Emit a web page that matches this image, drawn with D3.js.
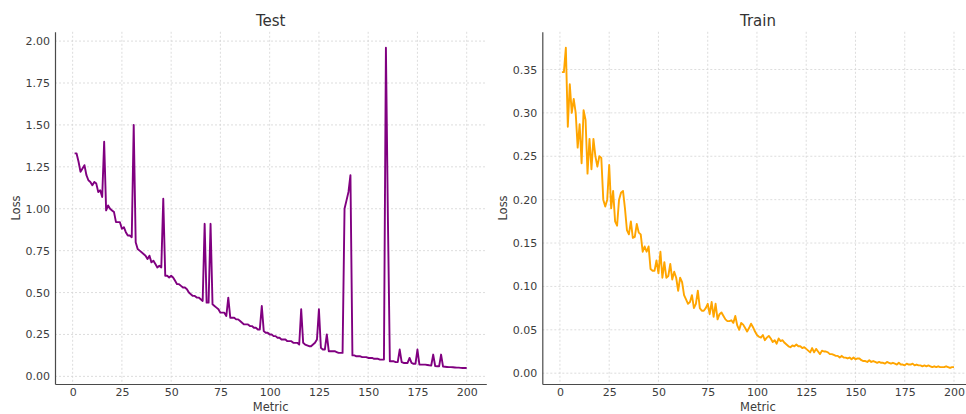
<!DOCTYPE html>
<html>
<head>
<meta charset="utf-8">
<script src="https://cdn.jsdelivr.net/npm/d3@7"></script>
<style>
  body { margin: 0; background: #fff; }
  svg { display: block; font-family: "DejaVu Sans", sans-serif; }
</style>
</head>
<body>
<svg id="chart" width="966" height="414"></svg>
<script>
// loss values, one per step (steps 1..200)
const testLoss = [
  1.33, 1.33, 1.28, 1.22, 1.24, 1.26, 1.20, 1.17, 1.16, 1.14,
  1.16, 1.15, 1.10, 1.11, 1.07, 1.40, 0.99, 1.02, 1.00, 0.99,
  0.98, 0.92, 0.92, 0.92, 0.88, 0.89, 0.86, 0.84, 0.84, 0.83,
  1.50, 0.80, 0.76, 0.75, 0.74, 0.73, 0.72, 0.70, 0.72, 0.68,
  0.69, 0.67, 0.65, 0.66, 0.65, 1.06, 0.60, 0.60, 0.59, 0.60,
  0.59, 0.57, 0.55, 0.55, 0.54, 0.53, 0.53, 0.52, 0.50, 0.49,
  0.48, 0.48, 0.47, 0.47, 0.46, 0.45, 0.91, 0.44, 0.44, 0.91,
  0.43, 0.42, 0.41, 0.40, 0.38, 0.38, 0.38, 0.36, 0.47, 0.35,
  0.35, 0.35, 0.34, 0.34, 0.33, 0.32, 0.31, 0.31, 0.31, 0.30,
  0.30, 0.29, 0.29, 0.28, 0.28, 0.42, 0.27, 0.26, 0.26, 0.25,
  0.25, 0.24, 0.24, 0.23, 0.23, 0.22, 0.22, 0.22, 0.21, 0.21,
  0.21, 0.20, 0.20, 0.20, 0.19, 0.40, 0.20, 0.19, 0.185, 0.18,
  0.18, 0.19, 0.20, 0.22, 0.40, 0.17, 0.16, 0.16, 0.25, 0.15,
  0.15, 0.15, 0.15, 0.145, 0.14, 0.14, 0.14, 1.00, 1.05, 1.10,
  1.20, 0.125, 0.125, 0.12, 0.12, 0.12, 0.115, 0.115, 0.115, 0.11,
  0.11, 0.11, 0.105, 0.105, 0.105, 0.10, 0.10, 0.10, 1.96, 0.95,
  0.09, 0.09, 0.09, 0.085, 0.085, 0.16, 0.085, 0.08, 0.08, 0.08,
  0.11, 0.08, 0.075, 0.075, 0.16, 0.07, 0.07, 0.07, 0.07, 0.068,
  0.066, 0.065, 0.13, 0.062, 0.06, 0.06, 0.13, 0.058, 0.057, 0.056,
  0.055, 0.055, 0.054, 0.053, 0.052, 0.052, 0.051, 0.05, 0.05, 0.05
]

const trainLoss = [
  0.347, 0.347, 0.375, 0.284, 0.333, 0.300, 0.316, 0.300, 0.260, 0.287,
  0.242, 0.303, 0.292, 0.230, 0.270, 0.235, 0.270, 0.250, 0.238, 0.250,
  0.248, 0.200, 0.192, 0.200, 0.240, 0.190, 0.210, 0.175, 0.170, 0.200,
  0.208, 0.210, 0.190, 0.165, 0.160, 0.175, 0.156, 0.157, 0.172, 0.162,
  0.160, 0.140, 0.146, 0.140, 0.146, 0.120, 0.118, 0.118, 0.130, 0.115,
  0.140, 0.110, 0.128, 0.110, 0.112, 0.126, 0.108, 0.117, 0.110, 0.095,
  0.110, 0.105, 0.090, 0.085, 0.080, 0.082, 0.090, 0.075, 0.080, 0.095,
  0.075, 0.072, 0.072, 0.075, 0.080, 0.068, 0.082, 0.065, 0.080, 0.062,
  0.068, 0.070, 0.066, 0.062, 0.060, 0.060, 0.061, 0.058, 0.066, 0.055,
  0.050, 0.058, 0.056, 0.052, 0.048, 0.052, 0.057, 0.053, 0.048, 0.044,
  0.042, 0.041, 0.044, 0.038, 0.041, 0.043, 0.040, 0.036, 0.038, 0.034,
  0.040, 0.037, 0.038, 0.035, 0.033, 0.031, 0.030, 0.032, 0.031, 0.033,
  0.031, 0.031, 0.029, 0.030, 0.028, 0.026, 0.024, 0.029, 0.024, 0.028,
  0.025, 0.022, 0.026, 0.025, 0.025, 0.024, 0.022, 0.022, 0.021, 0.020,
  0.020, 0.018, 0.020, 0.018, 0.018, 0.017, 0.018, 0.016, 0.018, 0.016,
  0.017, 0.017, 0.015, 0.014, 0.014, 0.013, 0.015, 0.013, 0.014, 0.013,
  0.012, 0.013, 0.012, 0.012, 0.011, 0.013, 0.012, 0.011, 0.012, 0.011,
  0.010, 0.012, 0.010, 0.010, 0.009, 0.011, 0.010, 0.010, 0.011, 0.009,
  0.010, 0.009, 0.009, 0.008, 0.009, 0.008, 0.009, 0.008, 0.007, 0.008,
  0.007, 0.008, 0.007, 0.007, 0.007, 0.008, 0.007, 0.006, 0.007, 0.007
]

const steps = d3.range(1, 201)
const xTicks = [0, 25, 50, 75, 100, 125, 150, 175, 200]
const testTicks = [0, 0.25, 0.5, 0.75, 1.0, 1.25, 1.5, 1.75, 2.0]
const trainTicks = [0, 0.05, 0.1, 0.15, 0.2, 0.25, 0.3, 0.35]

const svg = d3.select('#chart')

// matplotlib-like 5% margin around the data
function padded(ext) {
    let p = (ext[1] - ext[0]) * 0.05
    return [ext[0] - p, ext[1] + p]
}

function drawPanel(opts) {
    let g = svg.append('g')
    let x = d3.scaleLinear().domain(padded(d3.extent(steps))).range([opts.left, opts.right])
    let y = d3.scaleLinear().domain(padded(d3.extent(opts.values))).range([384, 31.8])

    // grid
    g.append('g').selectAll('line').data(xTicks).join('line')
        .attr('x1', d => x(d)).attr('x2', d => x(d))
        .attr('y1', 31.8).attr('y2', 384)
        .attr('stroke', '#d4d4d4').attr('stroke-width', 0.8)
        .attr('stroke-dasharray', '2,2')
    g.append('g').selectAll('line').data(opts.yTicks).join('line')
        .attr('x1', opts.left).attr('x2', opts.right)
        .attr('y1', d => y(d)).attr('y2', d => y(d))
        .attr('stroke', '#d4d4d4').attr('stroke-width', 0.8)
        .attr('stroke-dasharray', '2,2')

    // the series
    g.append('path')
        .datum(opts.values)
        .attr('fill', 'none')
        .attr('stroke', opts.color)
        .attr('stroke-width', 1.9)
        .attr('stroke-linejoin', 'round')
        .attr('d', d3.line().x((d, i) => x(steps[i])).y(d => y(d)))

    // axes (left + bottom spines only)
    let xAxis = g.append('g')
        .attr('transform', 'translate(0,384)')
        .call(d3.axisBottom(x).tickValues(xTicks).tickSize(0).tickPadding(4).tickFormat(d3.format('d')))
    let yAxis = g.append('g')
        .attr('transform', `translate(${opts.left},0)`)
        .call(d3.axisLeft(y).tickValues(opts.yTicks).tickSize(0).tickPadding(5).tickFormat(d3.format('.2f')))
    for (let a of [xAxis, yAxis]) {
        a.select('.domain').attr('stroke', '#4a4a4a').attr('stroke-width', 1.2)
        a.selectAll('text').attr('font-size', '11px').attr('fill', '#3c3c3c')
            .attr('font-family', '"DejaVu Sans", sans-serif')
    }

    let mid = (opts.left + opts.right) / 2
    g.append('text')
        .attr('x', mid).attr('y', 26)
        .attr('text-anchor', 'middle')
        .attr('font-size', '15px').attr('fill', '#333')
        .text(opts.title)
    g.append('text')
        .attr('x', mid).attr('y', 411)
        .attr('text-anchor', 'middle')
        .attr('font-size', '11.5px').attr('fill', '#3c3c3c')
        .text('Metric')
    g.append('text')
        .attr('transform', `translate(${opts.labelX},208) rotate(-90)`)
        .attr('text-anchor', 'middle')
        .attr('font-size', '11.5px').attr('fill', '#3c3c3c')
        .text('Loss')
}

drawPanel({title: 'Test', values: testLoss, color: '#800080', yTicks: testTicks, left: 55, right: 486.3, labelX: 20})
drawPanel({title: 'Train', values: trainLoss, color: '#ffa500', yTicks: trainTicks, left: 542.3, right: 973.6, labelX: 507})
</script>
</body>
</html>
